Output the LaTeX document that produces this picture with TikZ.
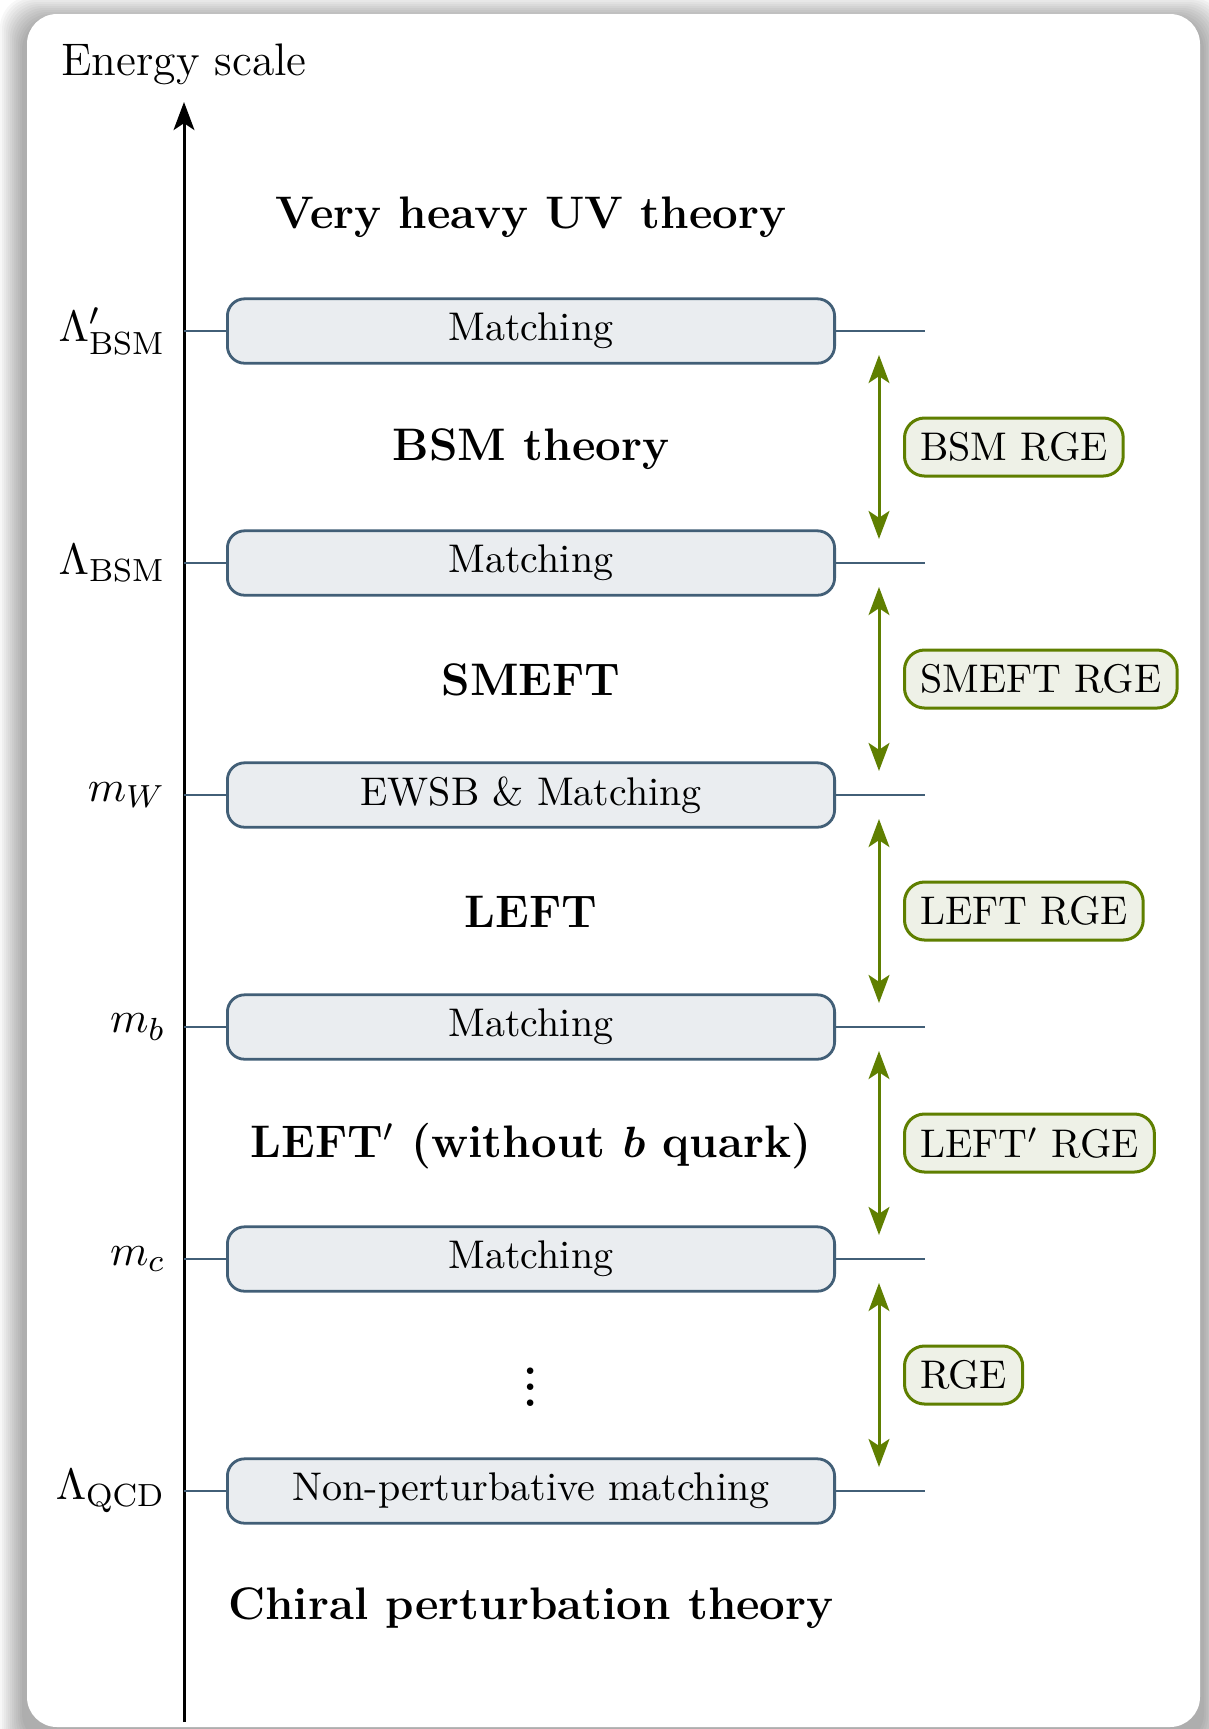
\documentclass[tikz,border=0pt]{standalone}
\usetikzlibrary{arrows.meta}
\definecolor{boxline}{HTML}{425F77}
\definecolor{boxfill}{HTML}{EAEDF0}
\definecolor{rgeline}{HTML}{5F7F00}
\definecolor{rgefill}{HTML}{EEF1E7}
\begin{document}
\begin{tikzpicture}[x=0.25pt,y=-0.25pt,
  matchbox/.style={draw=boxline, fill=boxfill, line width=0.7pt, rounded corners=4.3pt,
    minimum width=151.8pt, minimum height=16.1pt, inner sep=0pt,
    font=\fontsize{10}{12}\selectfont},
  rgebox/.style={draw=rgeline, fill=rgefill, line width=0.75pt, rounded corners=5pt,
    minimum height=14.5pt, inner xsep=3.9pt, inner ysep=0pt, anchor=west,
    font=\fontsize{10}{12}\selectfont},
  theory/.style={anchor=base, inner sep=0pt, font=\fontsize{11.4}{13}\selectfont\bfseries},
  scalelab/.style={anchor=east, inner sep=0pt, font=\fontsize{11.2}{13}\selectfont},
  tickline/.style={draw=boxline, line width=0.7pt},
  rgearrow/.style={draw=rgeline, line width=0.75pt,
    {Stealth[length=7pt,width=5.2pt,inset=1.7pt]}-{Stealth[length=7pt,width=5.2pt,inset=1.7pt]}},
]
\useasboundingbox (0,0) rectangle (1209,1729);
% shadow
\foreach \i in {0,...,11}{
  \fill[black, opacity=0.033, rounded corners=8pt]
    ({22-2*\i},{18-2*\i}) rectangle ({1204+2*\i},{1745+2*\i});
}
% frame
\fill[white, rounded corners=7.5pt] (27,14) rectangle (1200,1727);

% axis
\coordinate (axbot) at (184,1722);
\coordinate (axtop) at (184,102);
\draw[line width=0.75pt, -{Stealth[length=7pt,width=5.2pt,inset=1.7pt]}] (axbot) -- (axtop);
\node[anchor=base, inner sep=0pt, font=\fontsize{11.4}{13}\selectfont] (title) at (184,75) {Energy scale};

% matching boxes
\node[matchbox] (m1) at (531,331) {Matching};
\node[matchbox] (m2) at (531,563) {Matching};
\node[matchbox] (m3) at (531,795) {EWSB \& Matching};
\node[matchbox] (m4) at (531,1027) {Matching};
\node[matchbox] (m5) at (531,1259) {Matching};
\node[matchbox] (m6) at (531,1491) {Non-perturbative matching};

% axis points and right ends
\foreach \n/\y in {1/331,2/563,3/795,4/1027,5/1259,6/1491}{
  \coordinate (a\n) at (184,\y);
  \coordinate (r\n) at (925,\y);
  \draw[tickline] (a\n) -- (m\n.west);
  \draw[tickline] (m\n.east) -- (r\n);
}

% scale labels
\node[scalelab] (l1) at (166,331) {$\Lambda'_{\mathrm{BSM}}$};
\node[scalelab] (l2) at (166,563) {$\Lambda_{\mathrm{BSM}}$};
\node[scalelab] (l3) at (166,795) {$m_W$};
\node[scalelab] (l4) at (166,1027) {$m_b$};
\node[scalelab] (l5) at (166,1259) {$m_c$};
\node[scalelab] (l6) at (166,1491) {$\Lambda_{\mathrm{QCD}}$};

% theories
\node[theory] (t1) at (531,228) {Very heavy UV theory};
\node[theory] (t2) at (531,460) {BSM theory};
\node[theory] (t3) at (531,695) {SMEFT};
\node[theory] (t4) at (531,927) {LEFT};
\node[theory] (t5) at (531,1157) {LEFT$'$ (without {\boldmath$b$} quark)};
\node[theory] (t6) at (531,1406) {$\vdots$};
\node[theory] (t7) at (531,1619) {Chiral perturbation theory};

% RGE arrows
\foreach \n/\y in {1/331,2/563,3/795,4/1027,5/1259}{
  \coordinate (gt\n) at (879,{\y+24});
  \coordinate (gb\n) at (879,{\y+232-24});
  \draw[rgearrow] (gt\n) -- (gb\n);
}

% RGE labels
\node[rgebox] (g1) at (903,447) {BSM RGE};
\node[rgebox] (g2) at (903,679) {SMEFT RGE};
\node[rgebox] (g3) at (903,911) {LEFT RGE};
\node[rgebox] (g4) at (903,1143) {LEFT$'$ RGE};
\node[rgebox] (g5) at (903,1375) {RGE};
\end{tikzpicture}
\end{document}
